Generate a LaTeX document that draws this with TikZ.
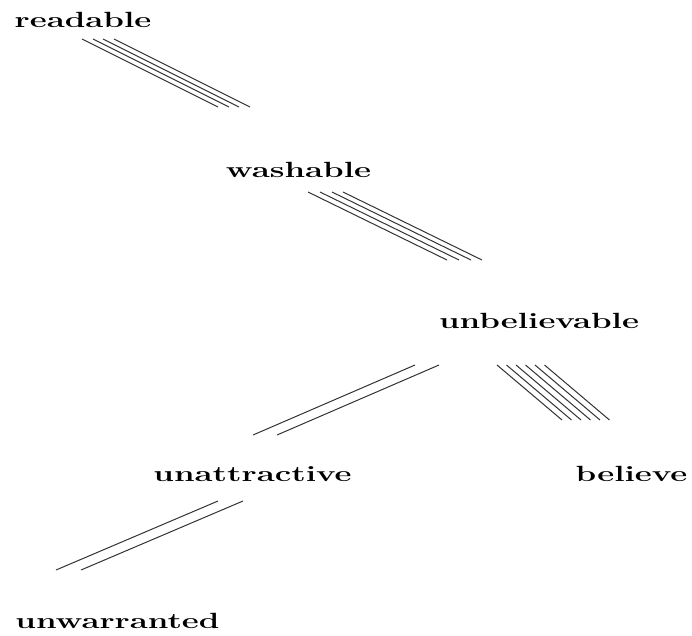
\documentclass[tikz,border=0pt]{standalone}
\usepackage{tikz}

% wide bold words
\newcommand{\stretchw}[1]{\scalebox{1.5}[1]{#1}}
\tikzset{
  word/.style={font=\bfseries\fontsize{22}{26}\selectfont, anchor=base, inner sep=0pt},
  link/.style={line width=1pt, color=black!80}
}

\begin{document}
\begin{tikzpicture}[x=1pt, y=-1pt]
\useasboundingbox (0,0) rectangle (692,635);
% words
\node[word] (readable) at (83,27) {\stretchw{readable}};
\node[word] (washable) at (298.5,177) {\stretchw{washable}};
\node[word] (unbelievable) at (539,328) {\stretchw{unbelievable}};
\node[word] (unattractive) at (252.5,481) {\stretchw{unattractive}};
\node[word] (believe) at (631.5,481) {\stretchw{believe}};
\node[word] (unwarranted) at (117.5,628) {\stretchw{unwarranted}};
% ends of the line bundles
\coordinate (rw1) at (82,39);   \coordinate (rw2) at (218,107);
\coordinate (wu1) at (308,192); \coordinate (wu2) at (447,260);
\coordinate (ua1) at (415,365); \coordinate (ua2) at (253,435);
\coordinate (ub1) at (497,365); \coordinate (ub2) at (562,420);
\coordinate (aw1) at (218,501); \coordinate (aw2) at (56,570);
% bundles
\foreach \d in {0,11,21,32}
  \draw[link] ([xshift=\d]rw1) -- ([xshift=\d]rw2);
\foreach \d in {0,12,24,35}
  \draw[link] ([xshift=\d]wu1) -- ([xshift=\d]wu2);
\foreach \d in {0,24}
  \draw[link] ([xshift=\d]ua1) -- ([xshift=\d]ua2);
\foreach \d in {0,9.5,19,28.5,38,47.5}
  \draw[link] ([xshift=\d]ub1) -- ([xshift=\d]ub2);
\foreach \d in {0,25}
  \draw[link] ([xshift=\d]aw1) -- ([xshift=\d]aw2);
\end{tikzpicture}
\end{document}
